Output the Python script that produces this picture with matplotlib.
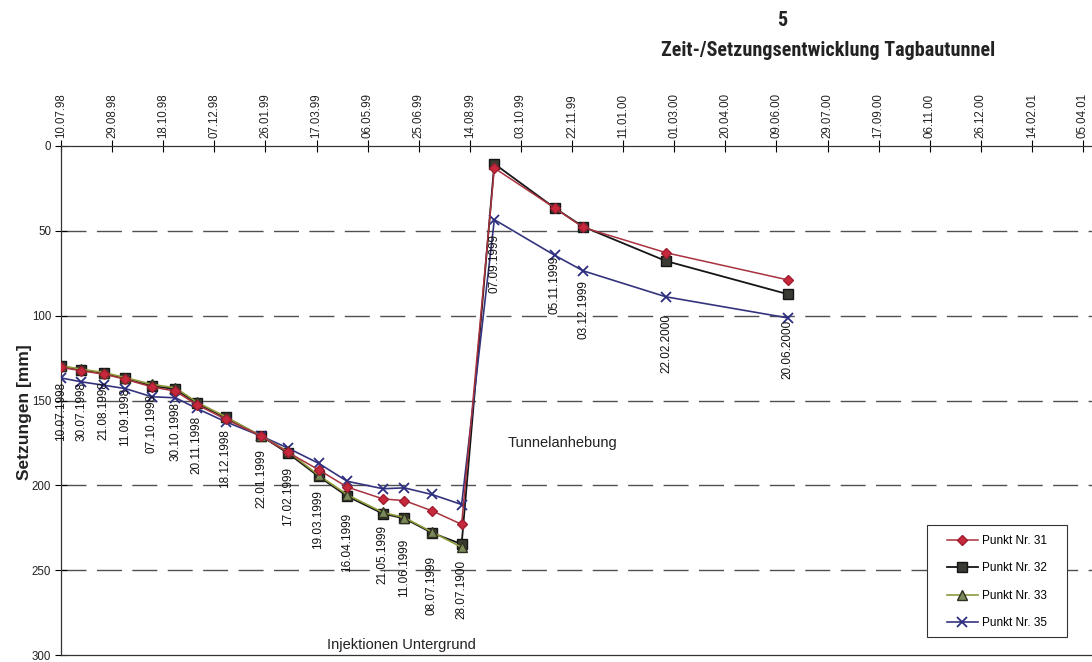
import matplotlib
matplotlib.use("Agg")
import matplotlib.pyplot as plt
import matplotlib.dates as mdates
from matplotlib import font_manager
from matplotlib.patches import Rectangle
import datetime as dt
import numpy as np

# ---------------- data ----------------
point_dates = ["1998-07-10", "1998-07-30", "1998-08-21", "1998-09-11", "1998-10-07",
               "1998-10-30", "1998-11-20", "1998-12-18", "1999-01-22", "1999-02-17",
               "1999-03-19", "1999-04-16", "1999-05-21", "1999-06-11", "1999-07-08",
               "1999-08-06", "1999-09-07", "1999-11-05", "1999-12-03", "2000-02-22",
               "2000-06-20"]
point_labels = ["10.07.1998", "30.07.1998", "21.08.1998", "11.09.1998", "07.10.1998",
                "30.10.1998", "20.11.1998", "18.12.1998", "22.01.1999", "17.02.1999",
                "19.03.1999", "16.04.1999", "21.05.1999", "11.06.1999", "08.07.1999",
                "28.07.1900", "07.09.1999", "05.11.1999", "03.12.1999", "22.02.2000",
                "20.06.2000"]
nan = np.nan
s31 = [130.5, 132.5, 134.5, 137.5, 142.0, 144.5, 152.5, 161.0, 171.0, 180.5,
       190.8, 201.0, 208.0, 209.0, 215.0, 223.0, 13.0, 36.5, 48.0, 62.9, 78.9]
s32 = [129.7, 132.0, 134.0, 137.0, 141.4, 143.3, 151.7, 160.0, 171.0, 181.0,
       194.7, 206.4, 216.7, 219.5, 228.0, 234.7, 10.5, 36.5, 47.6, 67.8, 87.3]
s33 = [129.5, 131.5, 133.5, 136.5, 140.5, 142.5, 151.0, 159.5, 171.0, 180.0,
       194.0, 205.5, 216.0, 219.0, 227.5, 236.5, nan, nan, nan, nan, nan]
s35 = [136.7, 139.0, 141.0, 143.0, 147.8, 148.4, 154.7, 162.5, 171.0, 178.0,
       187.0, 197.6, 202.0, 201.5, 205.4, 211.3, 43.4, 64.4, 73.6, 88.9, 101.3]
series_names = ["Punkt Nr. 31", "Punkt Nr. 32", "Punkt Nr. 33", "Punkt Nr. 35"]

top_tick_labels = ["10.07.98", "29.08.98", "18.10.98", "07.12.98", "26.01.99", "17.03.99",
                   "06.05.99", "25.06.99", "14.08.99", "03.10.99", "22.11.99", "11.01.00",
                   "01.03.00", "20.04.00", "09.06.00", "29.07.00", "17.09.00", "06.11.00",
                   "26.12.00", "14.02.01", "05.04.01"]
y_ticks = [0, 50, 100, 150, 200, 250, 300]

# label placement (pixels below anchor point) -- layout only
label_dy_px = [45, 42, 37, 38, 38, 42, 42, 41, 42, 43, 43, 46, 41, 49, 53, 45,
               44, 30, 39, 47, 32]

# ---------------- fonts ----------------
def has_font(name):
    try:
        font_manager.findfont(font_manager.FontProperties(family=name), fallback_to_default=False)
        return True
    except Exception:
        return False

base_font = "Liberation Sans" if has_font("Liberation Sans") else "DejaVu Sans"
plt.rcParams["font.family"] = [base_font, "DejaVu Sans"]


def condensed_bold_file():
    cands = []
    for f in font_manager.fontManager.ttflist:
        fn = f.fname.lower()
        nm = f.name.lower()
        is_cond = (f.stretch in ("condensed", "semi-condensed", "extra-condensed")
                   or "narrow" in fn or "condensed" in fn or "narrow" in nm or "condensed" in nm)
        wt = f.weight if isinstance(f.weight, int) else 700 if "bold" in str(f.weight) else 400
        is_bold = wt >= 600 or "bold" in fn
        if is_cond and is_bold and "italic" not in fn and "oblique" not in fn:
            score = 0
            if "liberation" in fn:
                score = 3
            elif "roboto" in fn:
                score = 2
            elif "dejavu" in fn:
                score = 1
            cands.append((score, f.fname))
    if cands:
        cands.sort(reverse=True)
        return cands[0][1]
    return None


cfile = condensed_bold_file()
if cfile:
    title_fp = font_manager.FontProperties(fname=cfile, size=14.5)
else:
    title_fp = font_manager.FontProperties(family=base_font, weight="bold", size=12)

# ---------------- figure ----------------
W, H = 1092, 662
fig = plt.figure(figsize=(W / 100, H / 100), dpi=100)
ax_left, ax_right, ax_top, ax_bottom = 61, 1093, 146, 655
ax = fig.add_axes([ax_left / W, (H - ax_bottom) / H, (ax_right - ax_left) / W,
                   (ax_bottom - ax_top) / H])

x = [mdates.date2num(dt.datetime.strptime(d, "%Y-%m-%d")) for d in point_dates]
x0 = mdates.date2num(dt.datetime(1998, 7, 10))
px_per_day = 1.022
ax.set_xlim(x0, x0 + (ax_right - ax_left) / px_per_day)
ax.set_ylim(300, 0)

# gridlines
for yv in y_ticks[1:-1]:
    ax.axhline(yv, color="#505050", lw=1.0, dashes=(18, 7.5), zorder=1)

# series
ax.plot(x, s31, color="#a8323e", lw=1.1, marker="D", ms=5, mfc="#c8283c", mec="#a01e30",
        label=series_names[0], zorder=4)
ax.plot(x, s32, color="#151515", lw=1.3, marker="s", ms=6.5, mfc="#3a3a32", mec="#151515",
        label=series_names[1], zorder=3)
ax.plot(x, s33, color="#8f9a3c", lw=1.2, marker="^", ms=6.5, mfc="#7b8a5a", mec="#303020",
        label=series_names[2], zorder=3.5)
ax.plot(x, s35, color="#34347e", lw=1.2, marker="x", ms=7, mew=1.3, mec="#2d2d80",
        label=series_names[3], zorder=3)

# point date labels
n_pre = 16
for i, (xi, lab) in enumerate(zip(x, point_labels)):
    base = s32[i] if i < n_pre else s35[i]
    ax.annotate(lab, xy=(xi, base), xytext=(0, -label_dy_px[i]), textcoords="offset pixels",
                rotation=90, ha="center", va="center", fontsize=8.5, color="#111111",
                zorder=5)

# annotations
ax.text((508 - ax_left) / (ax_right - ax_left), 1 - (443 - ax_top) / (ax_bottom - ax_top),
        "Tunnelanhebung", transform=ax.transAxes, ha="left", va="center",
        fontsize=10.5, color="#222222")
ax.text((327 - ax_left) / (ax_right - ax_left), 1 - (645 - ax_top) / (ax_bottom - ax_top),
        "Injektionen Untergrund", transform=ax.transAxes, ha="left", va="center",
        fontsize=10.5, color="#222222")

# axes styling
ax.xaxis.tick_top()
xt = [mdates.date2num(dt.datetime.strptime(t, "%d.%m.%y")) for t in top_tick_labels]
ax.set_xticks(xt)
ax.set_xticklabels(top_tick_labels, rotation=90, fontsize=8.3, color="#222222")
ax.tick_params(axis="x", direction="inout", length=8, width=0.8, pad=2, top=True, bottom=False)
ax.set_yticks(y_ticks)
ax.set_yticklabels([str(v) for v in y_ticks], fontsize=8.3, color="#222222")
ax.tick_params(axis="y", direction="inout", length=8, width=0.8, pad=3)
for side in ["top", "left", "bottom"]:
    ax.spines[side].set_linewidth(0.9)
    ax.spines[side].set_color("#333333")
ax.spines["right"].set_visible(False)

fig.text(24 / W, 1 - 412 / H, "Setzungen [mm]", rotation=90, ha="center", va="center",
         fontsize=12.5, fontweight="bold", color="#222222")

# titles
fig.text(782 / W, 1 - 20 / H, "5", ha="center", va="center", fontproperties=title_fp,
         color="#222222")
fig.text(828 / W, 1 - 50 / H, "Zeit-/Setzungsentwicklung Tagbautunnel", ha="center",
         va="center", fontproperties=title_fp, color="#222222")

# legend: frame drawn as a figure-positioned rectangle, entries without frame
frame = Rectangle((927 / W, (H - 637) / H), 140 / W, 112 / H, transform=fig.transFigure,
                  facecolor="white", edgecolor="#333333", lw=0.8, zorder=9, clip_on=False)
ax.add_patch(frame)
leg = ax.legend(loc="upper left", bbox_to_anchor=(947 / W, (H - 535) / H),
                bbox_transform=fig.transFigure, borderaxespad=0, borderpad=0, fontsize=8.5,
                frameon=False, handlelength=2.6, handletextpad=0.35, labelspacing=1.3)
leg.set_zorder(10)

fig.savefig("out.png", dpi=100)
